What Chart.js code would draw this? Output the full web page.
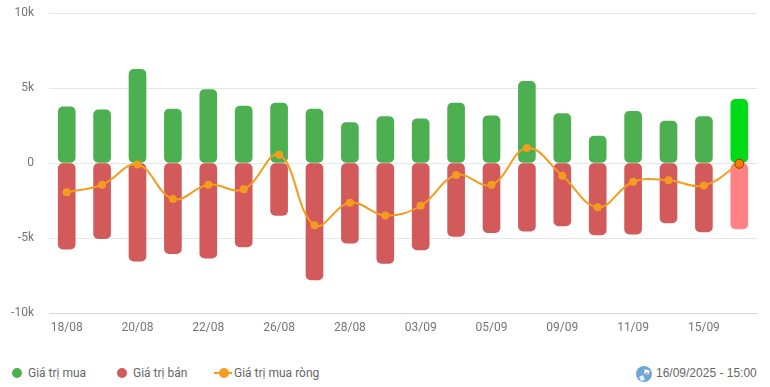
<!DOCTYPE html>
<html lang="en">
<head>
  <meta charset="UTF-8">
  <title>Giá trị mua bán</title>
  <script src="https://cdn.jsdelivr.net/npm/chart.js"></script>
  <style>
    html, body { margin: 0; padding: 0; background: #fff; }
    #wrap { position: relative; width: 770px; height: 387px; overflow: hidden; font-family: Roboto, sans-serif; font-size: 12px; color: #666; }
    #chartBox { position: absolute; left: 0; top: 0; width: 770px; height: 340px; }
    .legend-item { position: absolute; top: 366px; line-height: 14px; white-space: nowrap; }
    .dot { position: absolute; width: 10px; height: 10px; border-radius: 50%; top: 368px; }
    .dash { position: absolute; left: 214px; top: 372px; width: 18px; height: 2px; background: #f39c1f; }
    .dash i { position: absolute; left: 5px; top: -4px; width: 10px; height: 10px; border-radius: 50%; background: #f39c1f; }
    #stamp { position: absolute; left: 656px; top: 366px; line-height: 14px; font-family: "Liberation Sans", Arial, sans-serif; white-space: nowrap; }
    #globe { position: absolute; left: 636px; top: 366px; }
  </style>
</head>
<body>
<div id="wrap">
  <div id="chartBox"><canvas id="flowChart"></canvas></div>

  <span class="dot" style="left:12px;background:#4caf50"></span>
  <span class="legend-item" id="lblBuy" style="left:28px"></span>
  <span class="dot" style="left:117px;background:#d25a5a"></span>
  <span class="legend-item" id="lblSell" style="left:133px"></span>
  <span class="dash"><i></i></span>
  <span class="legend-item" id="lblNet" style="left:234px"></span>

  <svg id="globe" width="16" height="16" viewBox="0 0 16 16">
    <circle cx="8" cy="8" r="8" fill="#6ea6d6"/>
    <path d="M9 3 L14 5 L12 9 L8 7 Z" fill="#fff"/>
    <path d="M9 6 L13 7 L11 9 Z" fill="#ef8f8f"/>
    <path d="M3 11 L7 9 L9 14 L5 15 Z" fill="#e8f1f8"/>
  </svg>
  <span id="stamp">16/09/2025 - 15:00</span>
</div>

<script>
  const labels = ["18/08","19/08","20/08","21/08","22/08","25/08","26/08","27/08","28/08","29/08",
                  "03/09","04/09","05/09","08/09","09/09","10/09","11/09","12/09","15/09","16/09"];
  const buyValues = [3750,3550,6250,3600,4900,3800,4000,3600,2700,3100,
                     2950,4000,3150,5450,3300,1800,3450,2800,3100,4250];
  const sellValues = [-5750,-5050,-6550,-6050,-6350,-5600,-3500,-7800,-5350,-6700,
                      -5800,-4900,-4650,-4550,-4200,-4800,-4750,-4000,-4600,-4400];
  const netValues = [-1950,-1450,-100,-2400,-1450,-1750,550,-4150,-2650,-3500,
                     -2850,-800,-1450,1000,-850,-2950,-1250,-1150,-1500,-50];
  const seriesNames = ["Giá trị mua", "Giá trị bán", "Giá trị mua ròng"];

  const BUY = "#4caf50", BUY_HOVER = "#00db16";
  const SELL = "#d25a5a", SELL_HOVER = "#ff8085";
  const NET = "#f39c1f";
  const last = labels.length - 1;

  // the last column is drawn in its highlighted colours
  const buyColors = labels.map((_, i) => i === last ? BUY_HOVER : BUY);
  const sellColors = labels.map((_, i) => i === last ? SELL_HOVER : SELL);

  document.getElementById("lblBuy").innerText = seriesNames[0];
  document.getElementById("lblSell").innerText = seriesNames[1];
  document.getElementById("lblNet").innerText = seriesNames[2];

  new Chart(document.getElementById("flowChart"), {
    data: {
      labels,
      datasets: [
        {
          type: "line",
          label: seriesNames[2],
          data: netValues,
          order: 0,
          borderColor: NET,
          borderWidth: 2,
          tension: 0.4,
          pointRadius: labels.map((_, i) => i === last ? 4.5 : 4),
          pointBackgroundColor: labels.map((_, i) => i === last ? "#ff7a00" : NET),
          pointBorderColor: labels.map((_, i) => i === last ? "#8a3d00" : NET),
          pointBorderWidth: labels.map((_, i) => i === last ? 1 : 0)
        },
        {
          type: "bar",
          label: seriesNames[0],
          data: buyValues,
          order: 1,
          backgroundColor: buyColors,
          barThickness: 17,
          borderRadius: 5,
          borderSkipped: false
        },
        {
          type: "bar",
          label: seriesNames[1],
          data: sellValues,
          order: 1,
          backgroundColor: sellColors,
          barThickness: 17,
          borderRadius: 5,
          borderSkipped: false
        }
      ]
    },
    options: {
      responsive: true,
      maintainAspectRatio: false,
      animation: false,
      layout: { padding: { top: 13, right: 13, left: 0, bottom: 0 } },
      plugins: { legend: { display: false }, tooltip: { enabled: false } },
      scales: {
        x: {
          stacked: true,
          grid: { display: false, drawTicks: false },
          border: { color: "#ccd6eb", width: 1 },
          afterFit: scale => { scale.height = 27; },
          ticks: {
            autoSkip: false,
            maxRotation: 0,
            padding: 8,
            color: "#757575",
            font: { family: "Roboto", size: 12 },
            callback: (value, index) => index % 2 === 0 ? labels[index] : ""
          }
        },
        y: {
          stacked: true,
          min: -10000,
          max: 10000,
          grid: { color: "#e6e6e6", drawTicks: false },
          border: { display: false },
          afterFit: scale => {
            scale.width = 49;
            // tick padding would otherwise push the plot down
            scale.paddingTop = 0;
            scale.paddingBottom = 0;
          },
          ticks: {
            stepSize: 5000,
            padding: 15,
            color: "#757575",
            font: { family: "Roboto", size: 12 },
            callback: value => value === 0 ? "0" : (value / 1000) + "k"
          }
        }
      }
    }
  });
</script>
</body>
</html>
